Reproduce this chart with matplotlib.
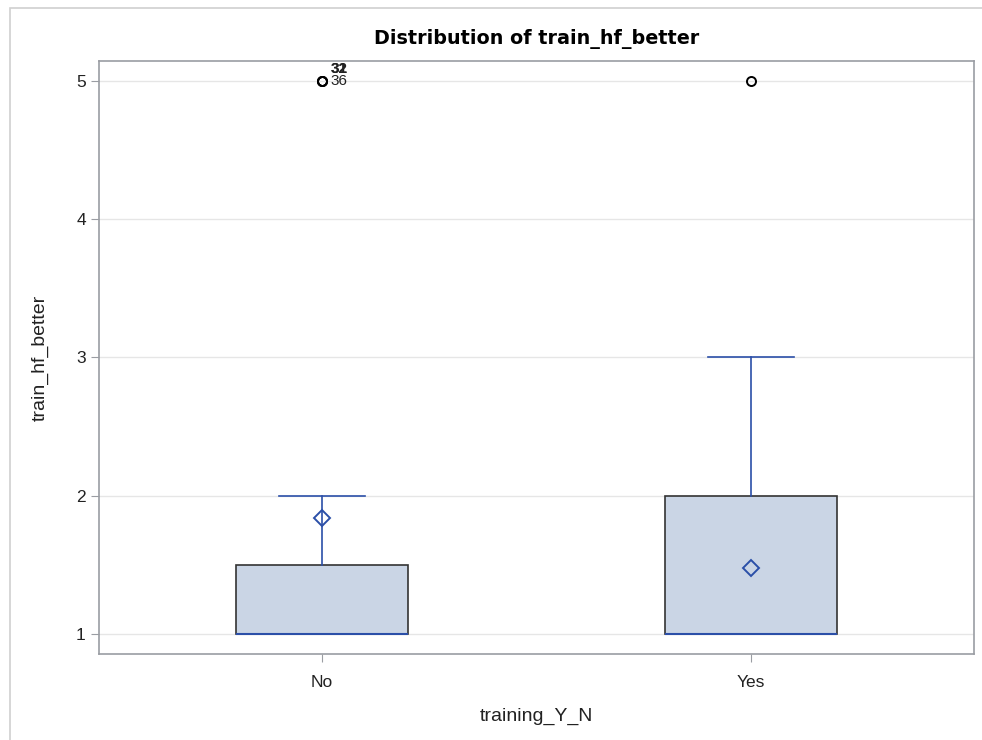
import matplotlib
matplotlib.use("Agg")
from matplotlib import pyplot as plt
from matplotlib.patches import Rectangle

# summary values
groups = ["No", "Yes"]
q1 = [1.0, 1.0]
medians = [1.0, 1.0]
q3 = [1.5, 2.0]
whisker_low = [1.0, 1.0]
whisker_high = [2.0, 3.0]
means = [1.84, 1.48]
outliers = [[5.0, 5.0, 5.0], [5.0]]
outlier_ids = [["36", "31", "32"], []]
yticks = [1, 2, 3, 4, 5]

plt.rcParams['font.family'] = ['Liberation Sans', 'DejaVu Sans']

blue = '#2B4FA8'
fill = '#CAD5E5'
grey = '#9A9DA3'

fig = plt.figure(figsize=(9.82, 7.4), dpi=100)
fig.patches.append(Rectangle((10 / 982, -0.01), 1.0, 1 - 8 / 740 + 0.01,
                             transform=fig.transFigure, fill=False,
                             edgecolor='#D0D0D0', linewidth=1.2))
ax = fig.add_axes([99 / 982, 1 - 654 / 740, (974 - 99) / 982, (654 - 61) / 740])

stats = []
for i in range(len(groups)):
    stats.append(dict(label=groups[i], q1=q1[i], med=medians[i], q3=q3[i],
                      whislo=whisker_low[i], whishi=whisker_high[i],
                      mean=means[i], fliers=outliers[i]))

ax.bxp(stats, positions=range(len(groups)), widths=0.4, patch_artist=True,
       showmeans=True, showfliers=True,
       boxprops=dict(facecolor=fill, edgecolor='#333333', linewidth=1.2),
       medianprops=dict(color=blue, linewidth=1.5),
       whiskerprops=dict(color=blue, linewidth=1.2),
       capprops=dict(color=blue, linewidth=1.2),
       capwidths=0.2,
       meanprops=dict(marker='D', markerfacecolor='none', markeredgecolor=blue,
                      markeredgewidth=1.4, markersize=8.5),
       flierprops=dict(marker='o', markerfacecolor='none', markeredgecolor='black',
                       markeredgewidth=1.4, markersize=6.5))

# outlier id labels (stacked on top of each other, as in the original)
for i, ids in enumerate(outlier_ids):
    for k, lab in enumerate(ids):
        dy = 0 if k == 0 else 9
        ax.annotate(lab, (i, outliers[i][k]), xytext=(6, dy), textcoords='offset points',
                    fontsize=11, va='center', ha='left', color='#222222',
                    fontweight='bold' if k else 'normal')

ax.set_xlim(-0.52, 1.52)
ax.set_ylim(0.855, 5.145)
ax.set_yticks(yticks)
ax.set_xticks(range(len(groups)))
ax.set_xticklabels(groups)
ax.yaxis.grid(True, color='#E6E6E6', linewidth=1)
ax.set_axisbelow(True)
for s in ax.spines.values():
    s.set_color(grey)
    s.set_linewidth(1.2)
ax.tick_params(axis='both', colors=grey, labelcolor='#222222', labelsize=12.5, length=6)
ax.tick_params(axis='x', pad=9)
ax.set_xlabel('training_Y_N', fontsize=14, color='#222222', labelpad=13)
ax.set_ylabel('train_hf_better', fontsize=14, color='#222222', labelpad=20)
ax.set_title('Distribution of train_hf_better', fontsize=13.8, fontweight='bold',
             family='DejaVu Sans', pad=12)

fig.savefig('out.png', dpi=100)
